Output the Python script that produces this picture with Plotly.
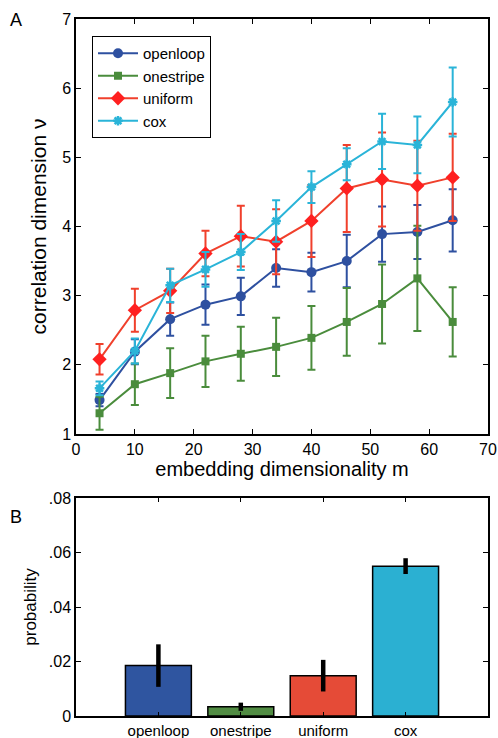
import plotly.graph_objects as go

# ---- data ----
m_vals = [4, 10, 16, 22, 28, 34, 40, 46, 52, 58, 64]

openloop = [1.49, 2.19, 2.66, 2.87, 2.99, 3.40, 3.34, 3.50, 3.89, 3.92, 4.09]
openloop_err = [0.09, 0.18, 0.24, 0.29, 0.27, 0.27, 0.28, 0.38, 0.40, 0.39, 0.45]

onestripe = [1.30, 1.72, 1.88, 2.05, 2.16, 2.26, 2.39, 2.62, 2.88, 3.25, 2.62]
onestripe_err = [0.24, 0.30, 0.36, 0.37, 0.39, 0.42, 0.46, 0.49, 0.57, 0.76, 0.50]

uniform = [2.08, 2.79, 3.07, 3.61, 3.86, 3.78, 4.08, 4.55, 4.68, 4.59, 4.71]
uniform_err = [0.22, 0.31, 0.32, 0.33, 0.44, 0.47, 0.52, 0.63, 0.68, 0.65, 0.63]

cox = [1.66, 2.20, 3.15, 3.38, 3.63, 4.08, 4.57, 4.90, 5.23, 5.18, 5.80]
cox_err = [0.10, 0.18, 0.24, 0.25, 0.26, 0.30, 0.23, 0.23, 0.40, 0.41, 0.50]

bar_names = ["openloop", "onestripe", "uniform", "cox"]
bar_prob = [0.0185, 0.0034, 0.0148, 0.0550]
bar_err = [0.0078, 0.0015, 0.0058, 0.0029]

x_ticks = [0, 10, 20, 30, 40, 50, 60, 70]
y_ticks = [1, 2, 3, 4, 5, 6, 7]
p_ticks = [0, 0.02, 0.04, 0.06, 0.08]
p_ticklabels = ["0", ".02", ".04", ".06", ".08"]

# ---- styles ----
line_colors = ["#2E50A0", "#4A8C3C", "#F0402C", "#2AB4D8"]
marker_colors = ["#2E50A0", "#4A8C3C", "#FF2020", "#2AB4D8"]
symbols = ["circle", "square", "diamond", "asterisk-open"]
msizes = [10, 8, 11, 8]
bar_colors = ["#2F55A0", "#518C43", "#E54B37", "#2BB0D2"]

FONT = "Liberation Sans, Arial, Helvetica, sans-serif"

fig = go.Figure()

series = [("openloop", openloop, openloop_err),
          ("onestripe", onestripe, onestripe_err),
          ("uniform", uniform, uniform_err),
          ("cox", cox, cox_err)]

for i, (name, vals, errs) in enumerate(series):
    mk = dict(symbol=symbols[i], size=msizes[i], color=marker_colors[i])
    if symbols[i] == "asterisk-open":
        mk["line"] = dict(color=marker_colors[i], width=2.5)
    fig.add_trace(go.Scatter(
        x=m_vals, y=vals, name=name, mode="lines+markers",
        line=dict(color=line_colors[i], width=2),
        marker=mk,
        error_y=dict(type="data", array=errs, visible=True,
                     color=line_colors[i], thickness=2, width=4),
        xaxis="x", yaxis="y",
    ))

fig.add_trace(go.Bar(
    x=[1, 2, 3, 4], y=bar_prob, width=0.8,
    marker=dict(color=bar_colors, line=dict(color="black", width=1.5)),
    error_y=dict(type="data", array=bar_err, visible=True,
                 color="black", thickness=4.5, width=0),
    showlegend=False, xaxis="x2", yaxis="y2",
))

# body margin is removed by the post script, so the figure fills the window
W, H = 498, 738


def px_x(p):
    return p / W


def px_y(p):
    return 1 - p / H


axis_common = dict(showline=True, linecolor="black", linewidth=1.5, mirror="ticks",
                   ticks="inside", ticklen=5, tickwidth=1.2, tickcolor="black",
                   showgrid=False, zeroline=False, automargin=False,
                   ticklabeloverflow="allow",
                   tickfont=dict(family=FONT, size=16, color="black"))

fig.update_layout(
    width=W, height=H,
    margin=dict(l=0, r=0, t=0, b=0),
    paper_bgcolor="white", plot_bgcolor="white",
    font=dict(family=FONT, color="black"),
    xaxis=dict(domain=[px_x(76), px_x(488)], range=[0, 70], tickvals=x_ticks,
               title=dict(text="embedding dimensionality m", font=dict(size=20), standoff=2),
               anchor="y", **axis_common),
    yaxis=dict(domain=[px_y(434), px_y(19)], range=[1, 7], tickvals=y_ticks,
               title=dict(text="correlation dimension ν", font=dict(size=21), standoff=10),
               anchor="x", **axis_common),
    xaxis2=dict(domain=[px_x(76), px_x(488)], range=[0, 5], tickvals=[1, 2, 3, 4],
                ticktext=bar_names, anchor="y2", **axis_common),
    yaxis2=dict(domain=[px_y(716), px_y(498)], range=[0, 0.08], tickvals=p_ticks,
                ticktext=p_ticklabels,
                title=dict(text="probability", font=dict(size=17), standoff=8),
                anchor="x2", **axis_common),
    legend=dict(x=px_x(92), y=px_y(36), xanchor="left", yanchor="top",
                bgcolor="white", bordercolor="black", borderwidth=1,
                font=dict(family=FONT, size=15, color="black"),
                tracegroupgap=0, itemwidth=40),
    showlegend=True,
    annotations=[
        dict(text="A", x=px_x(8), y=px_y(8), xref="paper", yref="paper",
             xanchor="left", yanchor="top", showarrow=False,
             font=dict(family=FONT, size=18, color="black")),
        dict(text="B", x=px_x(8), y=px_y(505), xref="paper", yref="paper",
             xanchor="left", yanchor="top", showarrow=False,
             font=dict(family=FONT, size=18, color="black")),
    ],
)
fig.update_layout(xaxis2=dict(tickfont=dict(size=15), ticklen=4))

fig.write_html(
    "out.html",
    config={"displayModeBar": False},
    post_script="document.body.style.margin='0';document.body.style.overflow='hidden';",
)
